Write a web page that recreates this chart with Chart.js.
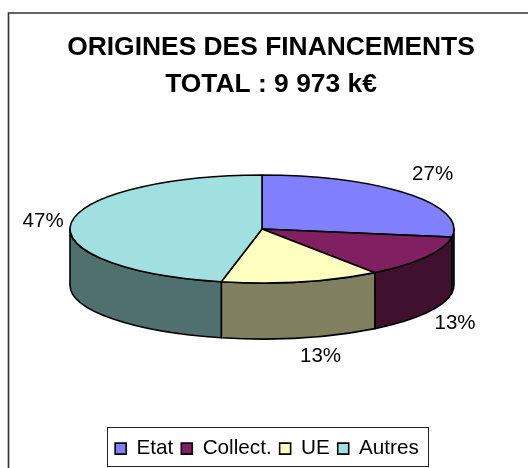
<!DOCTYPE html>
<html>
<head>
<meta charset="utf-8">
<title>Origines des financements</title>
<script src="https://cdn.jsdelivr.net/npm/chart.js@4/dist/chart.umd.min.js"></script>
<style>
  html, body { margin: 0; padding: 0; background: #fff; }
  canvas { display: block; }
</style>
</head>
<body>
<canvas id="pie" width="528" height="468"></canvas>
<script>
// chart data
const titleLines = ["ORIGINES DES FINANCEMENTS", "TOTAL : 9 973 k€"];
const categories = ["Etat", "Collect.", "UE", "Autres"];
const shares = [27.4, 12.6, 13.4, 46.6];

// colours
const topColors = ["#8080ff", "#802060", "#ffffc0", "#a0e0e0"];
const sideColors = ["#404080", "#40102f", "#808060", "#507070"];

const fontName = "'Liberation Sans', Arial, sans-serif";

// offsets of the % labels from the outer edge of each slice
const labelOffsets = [[25, -19], [29, 10], [19, 19], [-28, -2]];

// the library only knows flat pies, so squash its arcs into an ellipse
const tiltedPie = {
  id: "tiltedPie",
  beforeDatasetsDraw(chart, args, opts) {
    const ctx = chart.ctx;
    const arcs = chart.getDatasetMeta(0).data;
    const rx = arcs[0].outerRadius;
    const ry = rx * opts.squash;
    const cx = opts.centerX;
    const cy = opts.centerY;
    const depth = opts.depth;

    ctx.save();
    ctx.lineWidth = 1.6;
    ctx.strokeStyle = "#000";
    ctx.lineJoin = "round";

    // side walls, only the front half shows
    arcs.forEach((arc, i) => {
      const from = Math.max(arc.startAngle, 0);
      const to = Math.min(arc.endAngle, Math.PI);
      if (to <= from) return;
      ctx.beginPath();
      ctx.ellipse(cx, cy, rx, ry, 0, from, to);
      ctx.ellipse(cx, cy + depth, rx, ry, 0, to, from, true);
      ctx.closePath();
      ctx.fillStyle = sideColors[i];
      ctx.fill();
      ctx.stroke();
    });

    // top faces
    arcs.forEach((arc, i) => {
      ctx.beginPath();
      ctx.moveTo(cx, cy);
      ctx.ellipse(cx, cy, rx, ry, 0, arc.startAngle, arc.endAngle);
      ctx.closePath();
      ctx.fillStyle = topColors[i];
      ctx.fill();
      ctx.stroke();
    });

    // percent labels
    const total = shares.reduce((a, b) => a + b, 0);
    ctx.fillStyle = "#000";
    ctx.font = "20.5px " + fontName;
    ctx.textAlign = "center";
    ctx.textBaseline = "middle";
    arcs.forEach((arc, i) => {
      const mid = (arc.startAngle + arc.endAngle) / 2;
      const drop = Math.sin(mid) > 0 ? depth : 0;
      const x = cx + rx * Math.cos(mid) + labelOffsets[i][0];
      const y = cy + ry * Math.sin(mid) + drop + labelOffsets[i][1];
      ctx.fillText(Math.round(shares[i] / total * 100) + "%", x, y);
    });
    ctx.restore();
    return false;
  }
};

// frame of the picture and box around the legend
const frames = {
  id: "frames",
  afterLayout(chart) {
    // legend sits a little left of the title and lower than the layout puts it
    chart.legend.left -= 4;
    chart.legend.right -= 4;
    chart.legend.top += 6;
    chart.legend.bottom += 6;
  },
  beforeDraw(chart) {
    const ctx = chart.ctx;
    ctx.save();
    ctx.strokeStyle = "#333";
    ctx.lineWidth = 1.6;
    ctx.beginPath();
    ctx.moveTo(528, 13);
    ctx.lineTo(8.5, 13);
    ctx.lineTo(8.5, 468);
    ctx.stroke();
    ctx.restore();
  },
  afterDraw(chart) {
    const ctx = chart.ctx;
    ctx.save();
    ctx.strokeStyle = "#222";
    ctx.lineWidth = 1;
    ctx.strokeRect(107.5, 427.5, 321, 39);
    ctx.restore();
  }
};

new Chart(document.getElementById("pie"), {
  type: "pie",
  data: {
    labels: categories,
    datasets: [{
      data: shares,
      backgroundColor: topColors,
      borderWidth: 0,
      radius: 192
    }]
  },
  options: {
    responsive: false,
    animation: false,
    layout: { padding: { left: 14, bottom: 5 } },
    plugins: {
      title: {
        display: true,
        text: titleLines,
        color: "#000",
        font: { family: fontName, size: 26.4, weight: "bold", lineHeight: 1.4 },
        padding: { top: 29, bottom: 0 }
      },
      legend: {
        position: "bottom",
        labels: {
          color: "#000",
          font: { family: fontName, size: 20.7 },
          boxWidth: 11,
          boxHeight: 11,
          padding: 8,
          generateLabels: (chart) => categories.map((name, i) => ({
            text: name,
            fillStyle: topColors[i],
            strokeStyle: "#000",
            lineWidth: 1.6,
            index: i
          }))
        }
      },
      tooltip: { enabled: false },
      tiltedPie: { centerX: 262, centerY: 229, squash: 0.281, depth: 56 }
    }
  },
  plugins: [tiltedPie, frames]
});
</script>
</body>
</html>
